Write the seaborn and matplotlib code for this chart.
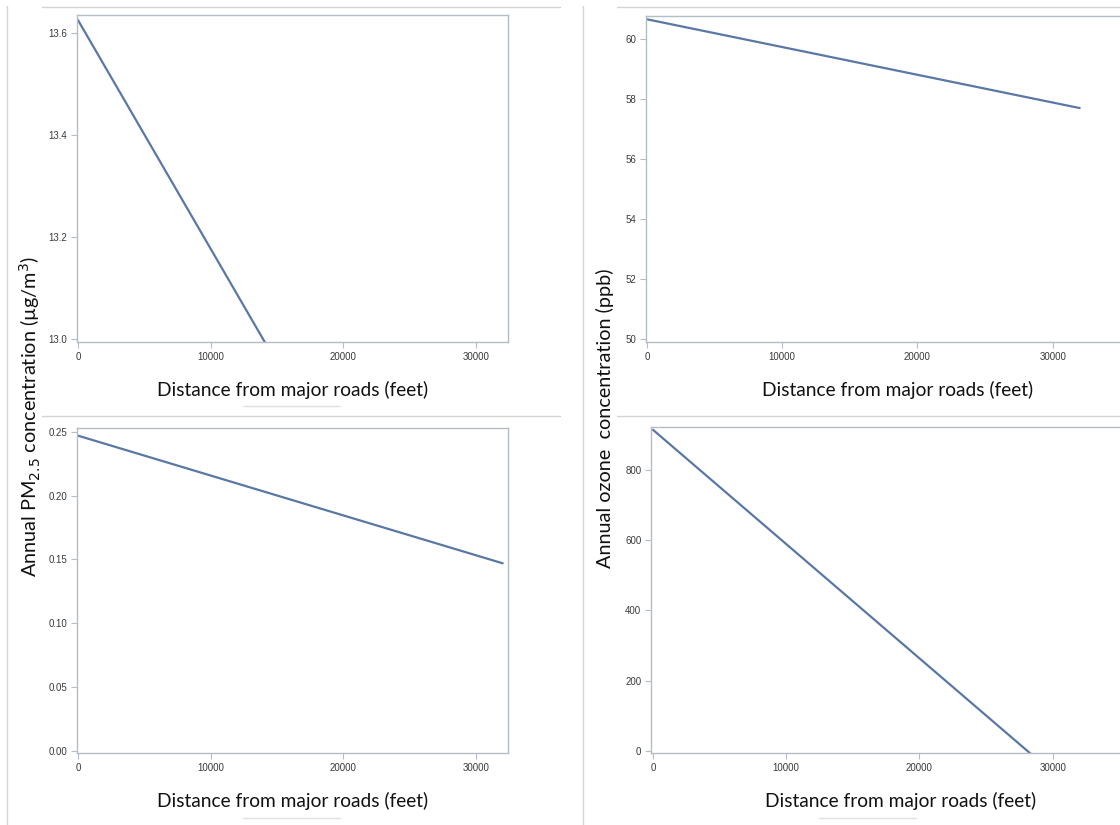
import matplotlib
matplotlib.use("Agg")
import matplotlib.pyplot as plt
import matplotlib.lines as mlines
import pandas as pd
import seaborn as sns

sns.set_style("white")
plt.rcParams["font.family"] = ["Liberation Sans", "DejaVu Sans"]

# Values (fitted lines, endpoints at 0 and 32000 ft)
distance = [0, 32000]
pm25_mean = [13.625, 12.19]       # top left, runs below the axis at ~14000 ft
pm25_change = [0.247, 0.147]      # bottom left
ozone_mean = [60.66, 57.70]       # top right
ozone_change = [914, -127]        # bottom right, crosses 0 at ~28000 ft

W, H = 1120, 825
LINE_COLOR = "#5a78a6"
SPINE_COLOR = "#b4bcc6"
SEP_COLOR = "#d4d4d4"

fig = plt.figure(figsize=(W / 100, H / 100), dpi=100)


def px_axes(x0, y0, x1, y1):
    return fig.add_axes([x0 / W, 1 - y1 / H, (x1 - x0) / W, (y1 - y0) / H])


def panel(box, y, xlim, ylim, yticks, yfmt):
    ax = px_axes(*box)
    df = pd.DataFrame({"distance": distance, "value": y})
    sns.lineplot(data=df, x="distance", y="value", ax=ax, color=LINE_COLOR, linewidth=1.6)
    ax.set_xlim(*xlim)
    ax.set_ylim(*ylim)
    ax.set_xticks([0, 10000, 20000, 30000])
    ax.set_xticklabels(["0", "10000", "20000", "30000"])
    ax.set_yticks(yticks)
    ax.set_yticklabels([yfmt.format(v) for v in yticks])
    for s in ax.spines.values():
        s.set_color(SPINE_COLOR)
        s.set_linewidth(1.0)
    ax.tick_params(axis="both", direction="out", length=4, width=0.8, color=SPINE_COLOR,
                   labelsize=7, labelcolor="#3a3a3a", pad=3, bottom=True, left=True)
    ax.set_ylabel("")
    ax.set_xlabel("Distance from major roads (feet)", fontsize=13.8, family="Lato",
                  color="#111111", labelpad=14)
    return ax


panel((77, 15, 508, 342), pm25_mean, (-75, 32400), (12.994, 13.635),
      [13.0, 13.2, 13.4, 13.6], "{:.1f}")
panel((77, 428, 508, 753), pm25_change, (-75, 32400), (-0.0016, 0.253),
      [0.00, 0.05, 0.10, 0.15, 0.20, 0.25], "{:.2f}")
panel((646, 16, 1150, 342), ozone_mean, (-75, 37200), (49.9, 60.77),
      [50, 52, 54, 56, 58, 60], "{:.0f}")
panel((651, 427, 1150, 753), ozone_change, (-150, 37300), (-6, 922),
      [0, 200, 400, 600, 800], "{:.0f}")

# shared y labels
fig.text(30 / W, 1 - 416 / H, "Annual PM$_{2.5}$ concentration (µg/m$^3$)",
         rotation=90, ha="center", va="center", fontsize=14.3, family="Lato", color="#111111")
fig.text(605 / W, 1 - 418 / H, "Annual ozone  concentration (ppb)",
         rotation=90, ha="center", va="center", fontsize=14.3, family="Lato", color="#111111")


# separator lines of the pasted panels
def hline(x0, x1, y, color=SEP_COLOR, lw=1.0):
    fig.add_artist(mlines.Line2D([x0 / W, x1 / W], [1 - y / H, 1 - y / H], color=color, lw=lw))


def vline(x, y0, y1, color=SEP_COLOR, lw=1.0):
    fig.add_artist(mlines.Line2D([x / W, x / W], [1 - y0 / H, 1 - y1 / H], color=color, lw=lw))


hline(42, 560, 6.5)
hline(617, 1120, 6.5)
hline(42, 560, 416)
hline(617, 1120, 416)
hline(243, 340, 406, color="#e0e0e0")
hline(243, 340, 818, color="#e0e0e0")
hline(819, 916, 818, color="#e0e0e0")
vline(6.5, 6, 825)
vline(582.5, 6, 825)

fig.savefig("out.png", dpi=100)
